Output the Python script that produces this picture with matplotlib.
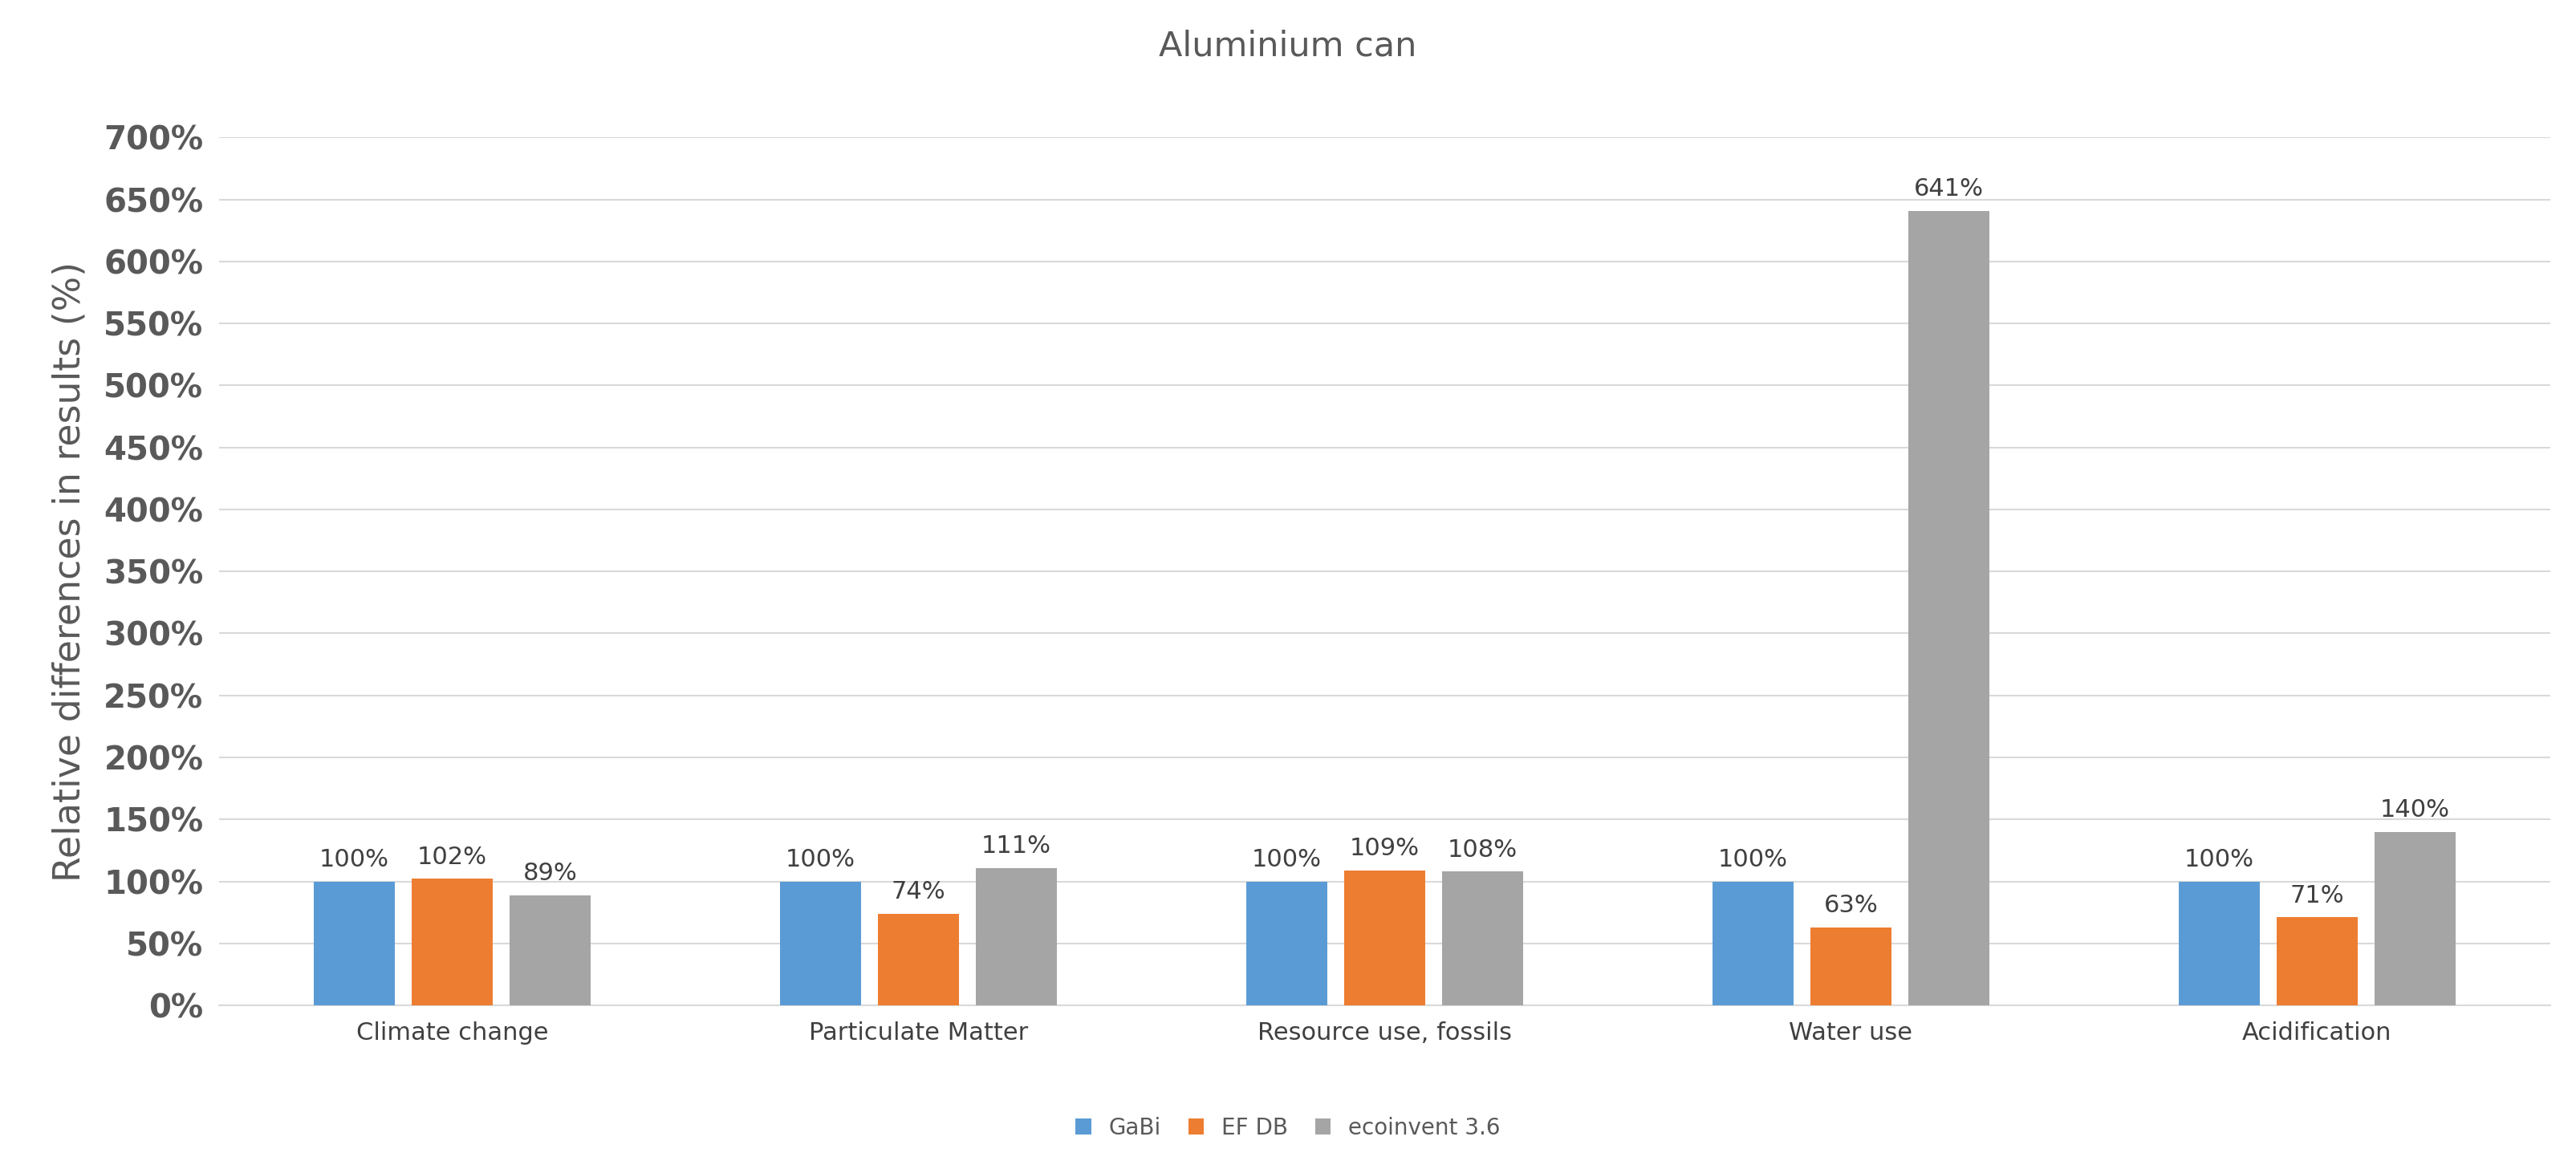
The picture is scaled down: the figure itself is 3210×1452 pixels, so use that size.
import numpy as np
import matplotlib.pyplot as plt

categories = ['Climate change', 'Particulate Matter', 'Resource use, fossils', 'Water use', 'Acidification']
series = ['GaBi', 'EF DB', 'ecoinvent 3.6']
gabi = [100, 100, 100, 100, 100]
efdb = [102, 74, 109, 63, 71]
ecoinvent = [89, 111, 108, 641, 140]
colors = ['#5B9BD5', '#ED7D31', '#A5A5A5']

fig = plt.figure(figsize=(32.1, 14.52), dpi=100)
ax = fig.add_axes([0.085, 0.137, 0.905, 0.745])

x = np.arange(len(categories))
w = 0.175
gap = 0.21
for i, (vals, name) in enumerate(zip([gabi, efdb, ecoinvent], series)):
    pos = x + (i - 1) * gap
    ax.bar(pos, vals, w, color=colors[i], label=name, zorder=3)
    for p, v in zip(pos, vals):
        ax.text(p, v + 8, f'{v}%', ha='center', va='bottom', fontsize=22, color='#404040')

ax.set_xlim(-0.5, len(categories) - 0.5)
ax.set_ylim(0, 700)
ax.set_yticks(np.arange(0, 701, 50))
ax.set_yticklabels([f'{t}%' for t in range(0, 701, 50)], fontsize=29, fontweight='bold', color='#595959')
ax.set_xticks(x)
ax.set_xticklabels(categories, fontsize=22, color='#404040')
ax.tick_params(length=0, pad=14)
ax.grid(axis='y', color='#D9D9D9', linewidth=1.5, zorder=0)
for s in ['top', 'right', 'left']:
    ax.spines[s].set_visible(False)
ax.spines['bottom'].set_color('#D9D9D9')
ax.spines['bottom'].set_linewidth(1.5)

ax.set_ylabel('Relative differences in results (%)', fontsize=33, color='#595959', labelpad=14)
fig.suptitle('Aluminium can', fontsize=31, color='#595959', y=0.975)
fig.legend(loc='lower center', bbox_to_anchor=(0.5, 0.005), ncol=3, frameon=False,
           fontsize=20, handlelength=0.7, handleheight=0.7, columnspacing=1.2, labelcolor='#595959')

fig.savefig('out.png')
